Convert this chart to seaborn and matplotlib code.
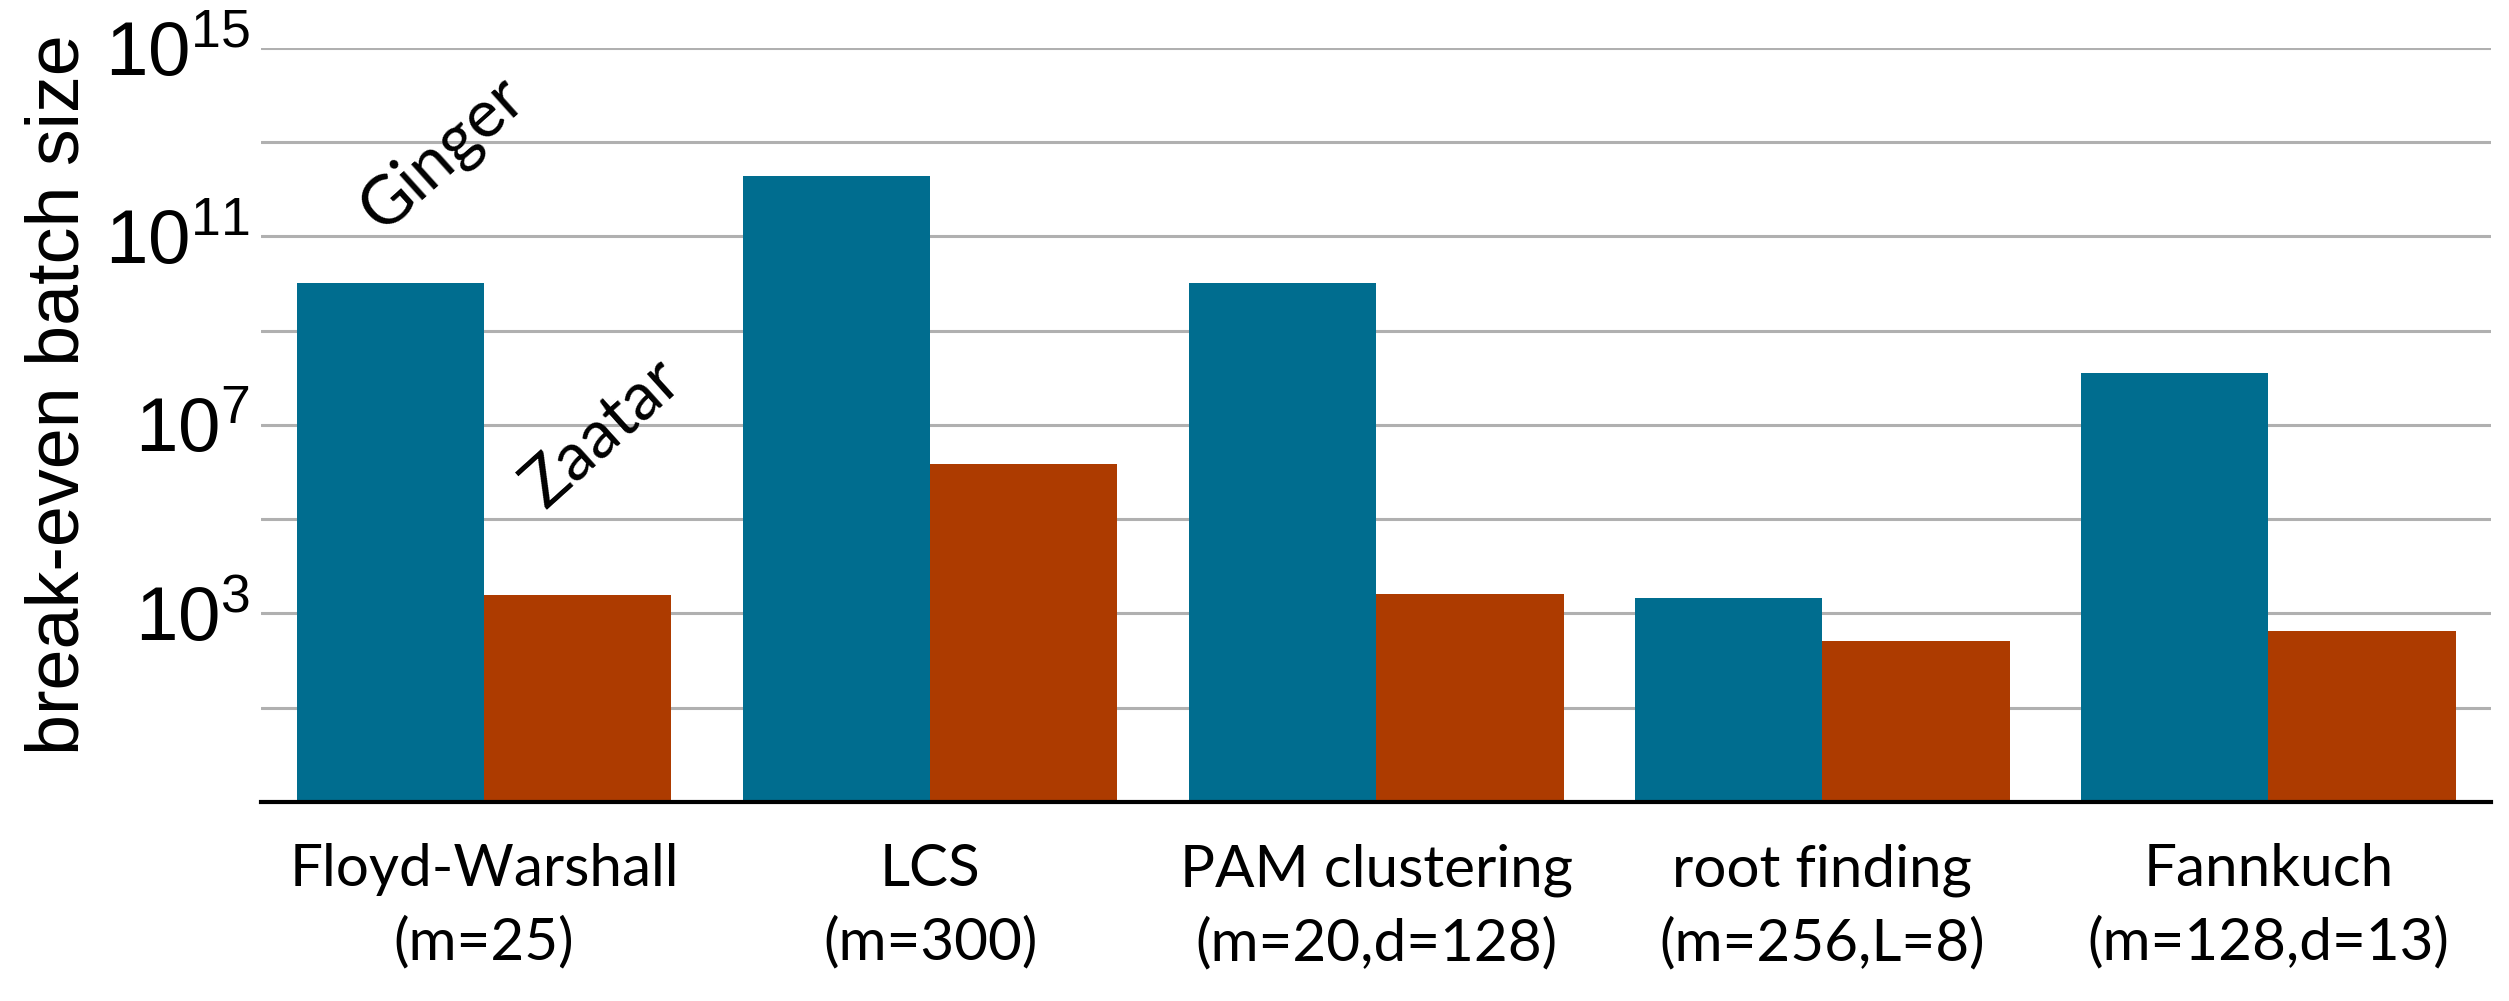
import matplotlib
matplotlib.use("Agg")
import matplotlib.pyplot as plt
import pandas as pd
import seaborn as sns

# Valeurs (échelle log)
benchmarks = [
    "Floyd-Warshall\n(m=25)",
    "LCS\n(m=300)",
    "PAM clustering\n(m=20,d=128)",
    "root finding\n(m=256,L=8)",
    "Fannkuch\n(m=128,d=13)",
]
ginger = [1.05e10, 1.9e12, 1.05e10, 2.1e3, 1.25e8]
zaatar = [2.4e3, 1.45e6, 2.6e3, 2.6e2, 4.2e2]
systems = ["Ginger", "Zaatar"]
colors = ["#006d8f", "#ad3b00"]

major_ticks = [1e3, 1e7, 1e11, 1e15]
major_labels = [r"$\mathregular{10^{3}}$", r"$\mathregular{10^{7}}$",
                r"$\mathregular{10^{11}}$", r"$\mathregular{10^{15}}$"]
minor_ticks = [1e1, 1e5, 1e9, 1e13]

df = pd.DataFrame({
    "benchmark": benchmarks * 2,
    "value": ginger + zaatar,
    "system": [systems[0]] * len(ginger) + [systems[1]] * len(zaatar),
})

sns.set_style("white")
plt.rcParams["font.family"] = ["Liberation Sans", "DejaVu Sans"]
plt.rcParams["mathtext.fontset"] = "custom"
plt.rcParams["mathtext.rm"] = "Liberation Sans"
plt.rcParams["mathtext.it"] = "Liberation Sans"
plt.rcParams["mathtext.bf"] = "Liberation Sans"
for key in ["text.color", "axes.labelcolor", "xtick.color", "ytick.color"]:
    plt.rcParams[key] = "black"

fig = plt.figure(figsize=(25.09, 10.01), dpi=100)
ax = fig.add_axes([0.104, 0.199, 0.889, 0.753])

sns.barplot(data=df, x="benchmark", y="value", hue="system", palette=colors,
            width=0.84, saturation=1, errorbar=None, legend=False, ax=ax,
            linewidth=0)
ax.set_yscale("log")
ax.set_ylim(1e-1, 1e15)
ax.set_xlim(-0.5, 4.5)

ax.set_yticks(major_ticks)
ax.set_yticklabels(major_labels)
ax.set_yticks(minor_ticks, minor=True)
ax.set_yticklabels([], minor=True)
ax.grid(axis="y", which="both", color="#b0b0b0", linewidth=2.2)
ax.set_axisbelow(True)
ax.tick_params(axis="y", which="both", length=0, labelsize=55, pad=8)
ax.tick_params(axis="x", length=0, pad=30)
for lab in ax.get_xticklabels():
    lab.set_fontfamily("Lato")
    lab.set_fontsize(42)
    lab.set_linespacing(1.45)

for side in ["left", "right", "top"]:
    ax.spines[side].set_visible(False)
ax.spines["bottom"].set_color("black")
ax.spines["bottom"].set_linewidth(3)

ax.set_xlabel("")
ax.set_ylabel("break-even batch size", fontsize=53)
ax.yaxis.set_label_coords(-0.075, 0.54)

ax.text(0.0816, 0.86, "Ginger", transform=ax.transAxes, rotation=42,
        ha="center", va="center", fontsize=48, family="Lato")
ax.text(0.153, 0.49, "Zaatar", transform=ax.transAxes, rotation=42,
        ha="center", va="center", fontsize=48, family="Lato")

fig.savefig("out.png", dpi=100)
plt.close(fig)
